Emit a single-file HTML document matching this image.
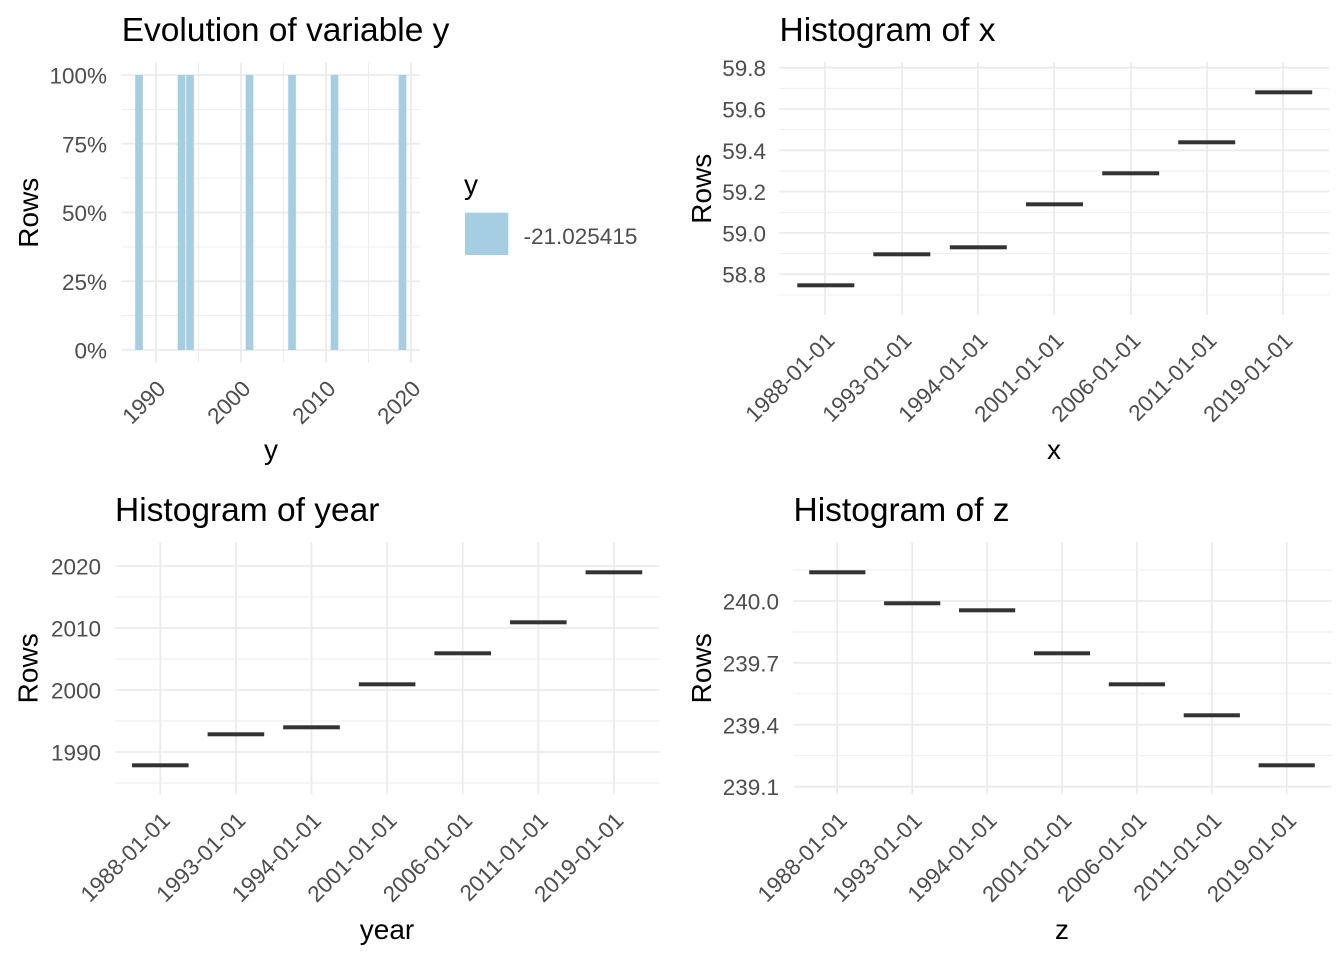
<!DOCTYPE html>
<html>
<head>
<meta charset="utf-8">
<style>
  html, body { margin: 0; padding: 0; background: #ffffff; }
  svg { display: block; }
  text { font-family: "Liberation Sans", Arial, sans-serif; }
  .tick { font-size: 22.5px; fill: #4D4D4D; }
  .title { font-size: 33.5px; fill: #000000; }
  .atitle { font-size: 28px; fill: #000000; }
  .maj { stroke: #EBEBEB; stroke-width: 1.8; }
  .min { stroke: #EBEBEB; stroke-width: 0.9; }
  .seg { fill: #333333; }
  .bar { fill: #A6CEE3; }
</style>
</head>
<body>
<svg width="1344" height="960" viewBox="0 0 1344 960" xmlns="http://www.w3.org/2000/svg">
  <rect x="0" y="0" width="1344" height="960" fill="#ffffff"/>

  <!-- ================= Panel 1 ================= -->
  <g>
    <line class="min" x1="121.7" x2="420" y1="109.4" y2="109.4"/>
    <line class="min" x1="121.7" x2="420" y1="178.1" y2="178.1"/>
    <line class="min" x1="121.7" x2="420" y1="246.9" y2="246.9"/>
    <line class="min" x1="121.7" x2="420" y1="315.6" y2="315.6"/>
    <line class="min" x1="198.5" x2="198.5" y1="62.7" y2="362.7"/>
    <line class="min" x1="283.5" x2="283.5" y1="62.7" y2="362.7"/>
    <line class="min" x1="368.5" x2="368.5" y1="62.7" y2="362.7"/>
    <line class="maj" x1="121.7" x2="420" y1="75" y2="75"/>
    <line class="maj" x1="121.7" x2="420" y1="143.75" y2="143.75"/>
    <line class="maj" x1="121.7" x2="420" y1="212.5" y2="212.5"/>
    <line class="maj" x1="121.7" x2="420" y1="281.25" y2="281.25"/>
    <line class="maj" x1="121.7" x2="420" y1="350" y2="350"/>
    <line class="maj" x1="156" x2="156" y1="62.7" y2="362.7"/>
    <line class="maj" x1="241" x2="241" y1="62.7" y2="362.7"/>
    <line class="maj" x1="326" x2="326" y1="62.7" y2="362.7"/>
    <line class="maj" x1="411" x2="411" y1="62.7" y2="362.7"/>
    <rect class="bar" x="135.2" y="75" width="7.65" height="275"/>
    <rect class="bar" x="177.7" y="75" width="7.65" height="275"/>
    <rect class="bar" x="186.2" y="75" width="7.65" height="275"/>
    <rect class="bar" x="245.7" y="75" width="7.65" height="275"/>
    <rect class="bar" x="288.2" y="75" width="7.65" height="275"/>
    <rect class="bar" x="330.7" y="75" width="7.65" height="275"/>
    <rect class="bar" x="398.7" y="75" width="7.65" height="275"/>
    <text class="tick" x="107" y="83.5" text-anchor="end">100%</text>
    <text class="tick" x="107" y="152.25" text-anchor="end">75%</text>
    <text class="tick" x="107" y="221" text-anchor="end">50%</text>
    <text class="tick" x="107" y="289.75" text-anchor="end">25%</text>
    <text class="tick" x="107" y="358.5" text-anchor="end">0%</text>
    <text class="tick" x="167" y="390" text-anchor="end" transform="rotate(-45 167 390)">1990</text>
    <text class="tick" x="252" y="390" text-anchor="end" transform="rotate(-45 252 390)">2000</text>
    <text class="tick" x="337" y="390" text-anchor="end" transform="rotate(-45 337 390)">2010</text>
    <text class="tick" x="422" y="390" text-anchor="end" transform="rotate(-45 422 390)">2020</text>
    <text class="atitle" x="38" y="212.7" text-anchor="middle" transform="rotate(-90 38 212.7)">Rows</text>
    <text class="atitle" x="271" y="459" text-anchor="middle">y</text>
    <text class="title" x="121.7" y="41">Evolution of variable y</text>
    <text class="atitle" x="464" y="194">y</text>
    <rect class="bar" x="465" y="212.7" width="43.3" height="42.3"/>
    <text class="tick" x="523.5" y="244">-21.025415</text>
  </g>

  <!-- ================= Panel 2 ================= -->
  <g>
    <line class="min" x1="779.2" x2="1329" y1="88.3" y2="88.3"/>
    <line class="min" x1="779.2" x2="1329" y1="129.6" y2="129.6"/>
    <line class="min" x1="779.2" x2="1329" y1="171" y2="171"/>
    <line class="min" x1="779.2" x2="1329" y1="212.3" y2="212.3"/>
    <line class="min" x1="779.2" x2="1329" y1="253.6" y2="253.6"/>
    <line class="min" x1="779.2" x2="1329" y1="294.9" y2="294.9"/>
    <line class="maj" x1="779.2" x2="1329" y1="67.7" y2="67.7"/>
    <line class="maj" x1="779.2" x2="1329" y1="109" y2="109"/>
    <line class="maj" x1="779.2" x2="1329" y1="150.3" y2="150.3"/>
    <line class="maj" x1="779.2" x2="1329" y1="191.6" y2="191.6"/>
    <line class="maj" x1="779.2" x2="1329" y1="232.9" y2="232.9"/>
    <line class="maj" x1="779.2" x2="1329" y1="274.2" y2="274.2"/>
    <line class="maj" x1="825" x2="825" y1="62.3" y2="315"/>
    <line class="maj" x1="902" x2="902" y1="62.3" y2="315"/>
    <line class="maj" x1="978" x2="978" y1="62.3" y2="315"/>
    <line class="maj" x1="1054" x2="1054" y1="62.3" y2="315"/>
    <line class="maj" x1="1131" x2="1131" y1="62.3" y2="315"/>
    <line class="maj" x1="1207" x2="1207" y1="62.3" y2="315"/>
    <line class="maj" x1="1283" x2="1283" y1="62.3" y2="315"/>
    <rect class="seg" x="797.3" y="283.3" width="57" height="4"/>
    <rect class="seg" x="873.3" y="252.3" width="57" height="4"/>
    <rect class="seg" x="949.8" y="245.3" width="57" height="4"/>
    <rect class="seg" x="1026" y="202.3" width="57" height="4"/>
    <rect class="seg" x="1102.2" y="171.3" width="57" height="4"/>
    <rect class="seg" x="1178.2" y="140.3" width="57" height="4"/>
    <rect class="seg" x="1255.2" y="90.3" width="57" height="4"/>
    <text class="tick" x="766" y="76.2" text-anchor="end">59.8</text>
    <text class="tick" x="766" y="117.5" text-anchor="end">59.6</text>
    <text class="tick" x="766" y="158.8" text-anchor="end">59.4</text>
    <text class="tick" x="766" y="200.1" text-anchor="end">59.2</text>
    <text class="tick" x="766" y="241.4" text-anchor="end">59.0</text>
    <text class="tick" x="766" y="282.7" text-anchor="end">58.8</text>
    <text class="tick" x="836" y="342" text-anchor="end" transform="rotate(-45 836 342)">1988-01-01</text>
    <text class="tick" x="913" y="342" text-anchor="end" transform="rotate(-45 913 342)">1993-01-01</text>
    <text class="tick" x="989" y="342" text-anchor="end" transform="rotate(-45 989 342)">1994-01-01</text>
    <text class="tick" x="1065" y="342" text-anchor="end" transform="rotate(-45 1065 342)">2001-01-01</text>
    <text class="tick" x="1142" y="342" text-anchor="end" transform="rotate(-45 1142 342)">2006-01-01</text>
    <text class="tick" x="1218" y="342" text-anchor="end" transform="rotate(-45 1218 342)">2011-01-01</text>
    <text class="tick" x="1294" y="342" text-anchor="end" transform="rotate(-45 1294 342)">2019-01-01</text>
    <text class="atitle" x="711" y="188.7" text-anchor="middle" transform="rotate(-90 711 188.7)">Rows</text>
    <text class="atitle" x="1054" y="459" text-anchor="middle">x</text>
    <text class="title" x="779.5" y="41">Histogram of x</text>
  </g>

  <!-- ================= Panel 3 ================= -->
  <g>
    <line class="min" x1="115" x2="659.4" y1="597" y2="597"/>
    <line class="min" x1="115" x2="659.4" y1="659" y2="659"/>
    <line class="min" x1="115" x2="659.4" y1="721" y2="721"/>
    <line class="min" x1="115" x2="659.4" y1="783" y2="783"/>
    <line class="maj" x1="115" x2="659.4" y1="566" y2="566"/>
    <line class="maj" x1="115" x2="659.4" y1="628" y2="628"/>
    <line class="maj" x1="115" x2="659.4" y1="690" y2="690"/>
    <line class="maj" x1="115" x2="659.4" y1="752" y2="752"/>
    <line class="maj" x1="160.3" x2="160.3" y1="542.3" y2="794.3"/>
    <line class="maj" x1="235.9" x2="235.9" y1="542.3" y2="794.3"/>
    <line class="maj" x1="311.5" x2="311.5" y1="542.3" y2="794.3"/>
    <line class="maj" x1="387.1" x2="387.1" y1="542.3" y2="794.3"/>
    <line class="maj" x1="462.7" x2="462.7" y1="542.3" y2="794.3"/>
    <line class="maj" x1="538.3" x2="538.3" y1="542.3" y2="794.3"/>
    <line class="maj" x1="613.9" x2="613.9" y1="542.3" y2="794.3"/>
    <rect class="seg" x="132" y="763.3" width="56.6" height="4"/>
    <rect class="seg" x="207.6" y="732.3" width="56.6" height="4"/>
    <rect class="seg" x="283.2" y="725.3" width="56.6" height="4"/>
    <rect class="seg" x="358.8" y="682.3" width="56.6" height="4"/>
    <rect class="seg" x="434.4" y="651.3" width="56.6" height="4"/>
    <rect class="seg" x="510" y="620.3" width="56.6" height="4"/>
    <rect class="seg" x="585.6" y="570.3" width="56.6" height="4"/>
    <text class="tick" x="101" y="574.5" text-anchor="end">2020</text>
    <text class="tick" x="101" y="636.5" text-anchor="end">2010</text>
    <text class="tick" x="101" y="698.5" text-anchor="end">2000</text>
    <text class="tick" x="101" y="760.5" text-anchor="end">1990</text>
    <text class="tick" x="171.3" y="822" text-anchor="end" transform="rotate(-45 171.3 822)">1988-01-01</text>
    <text class="tick" x="246.9" y="822" text-anchor="end" transform="rotate(-45 246.9 822)">1993-01-01</text>
    <text class="tick" x="322.5" y="822" text-anchor="end" transform="rotate(-45 322.5 822)">1994-01-01</text>
    <text class="tick" x="398.1" y="822" text-anchor="end" transform="rotate(-45 398.1 822)">2001-01-01</text>
    <text class="tick" x="473.7" y="822" text-anchor="end" transform="rotate(-45 473.7 822)">2006-01-01</text>
    <text class="tick" x="549.3" y="822" text-anchor="end" transform="rotate(-45 549.3 822)">2011-01-01</text>
    <text class="tick" x="624.9" y="822" text-anchor="end" transform="rotate(-45 624.9 822)">2019-01-01</text>
    <text class="atitle" x="37.5" y="668.3" text-anchor="middle" transform="rotate(-90 37.5 668.3)">Rows</text>
    <text class="atitle" x="387" y="939" text-anchor="middle">year</text>
    <text class="title" x="115" y="521">Histogram of year</text>
  </g>

  <!-- ================= Panel 4 ================= -->
  <g>
    <line class="min" x1="793.2" x2="1331.5" y1="570.1" y2="570.1"/>
    <line class="min" x1="793.2" x2="1331.5" y1="632" y2="632"/>
    <line class="min" x1="793.2" x2="1331.5" y1="693.8" y2="693.8"/>
    <line class="min" x1="793.2" x2="1331.5" y1="755.7" y2="755.7"/>
    <line class="maj" x1="793.2" x2="1331.5" y1="601" y2="601"/>
    <line class="maj" x1="793.2" x2="1331.5" y1="662.9" y2="662.9"/>
    <line class="maj" x1="793.2" x2="1331.5" y1="724.8" y2="724.8"/>
    <line class="maj" x1="793.2" x2="1331.5" y1="786.7" y2="786.7"/>
    <line class="maj" x1="837.3" x2="837.3" y1="542.3" y2="794.3"/>
    <line class="maj" x1="912.2" x2="912.2" y1="542.3" y2="794.3"/>
    <line class="maj" x1="987.1" x2="987.1" y1="542.3" y2="794.3"/>
    <line class="maj" x1="1062" x2="1062" y1="542.3" y2="794.3"/>
    <line class="maj" x1="1136.9" x2="1136.9" y1="542.3" y2="794.3"/>
    <line class="maj" x1="1211.8" x2="1211.8" y1="542.3" y2="794.3"/>
    <line class="maj" x1="1286.7" x2="1286.7" y1="542.3" y2="794.3"/>
    <rect class="seg" x="809.2" y="570.3" width="56.2" height="4"/>
    <rect class="seg" x="884.1" y="601.3" width="56.2" height="4"/>
    <rect class="seg" x="959" y="608.3" width="56.2" height="4"/>
    <rect class="seg" x="1033.9" y="651.3" width="56.2" height="4"/>
    <rect class="seg" x="1108.8" y="682.3" width="56.2" height="4"/>
    <rect class="seg" x="1183.7" y="713.3" width="56.2" height="4"/>
    <rect class="seg" x="1258.6" y="763.3" width="56.2" height="4"/>
    <text class="tick" x="779" y="609.5" text-anchor="end">240.0</text>
    <text class="tick" x="779" y="671.4" text-anchor="end">239.7</text>
    <text class="tick" x="779" y="733.3" text-anchor="end">239.4</text>
    <text class="tick" x="779" y="795.2" text-anchor="end">239.1</text>
    <text class="tick" x="848.3" y="822" text-anchor="end" transform="rotate(-45 848.3 822)">1988-01-01</text>
    <text class="tick" x="923.2" y="822" text-anchor="end" transform="rotate(-45 923.2 822)">1993-01-01</text>
    <text class="tick" x="998.1" y="822" text-anchor="end" transform="rotate(-45 998.1 822)">1994-01-01</text>
    <text class="tick" x="1073" y="822" text-anchor="end" transform="rotate(-45 1073 822)">2001-01-01</text>
    <text class="tick" x="1147.9" y="822" text-anchor="end" transform="rotate(-45 1147.9 822)">2006-01-01</text>
    <text class="tick" x="1222.8" y="822" text-anchor="end" transform="rotate(-45 1222.8 822)">2011-01-01</text>
    <text class="tick" x="1297.7" y="822" text-anchor="end" transform="rotate(-45 1297.7 822)">2019-01-01</text>
    <text class="atitle" x="711" y="668.3" text-anchor="middle" transform="rotate(-90 711 668.3)">Rows</text>
    <text class="atitle" x="1062" y="939" text-anchor="middle">z</text>
    <text class="title" x="793.5" y="521">Histogram of z</text>
  </g>
</svg>
</body>
</html>
